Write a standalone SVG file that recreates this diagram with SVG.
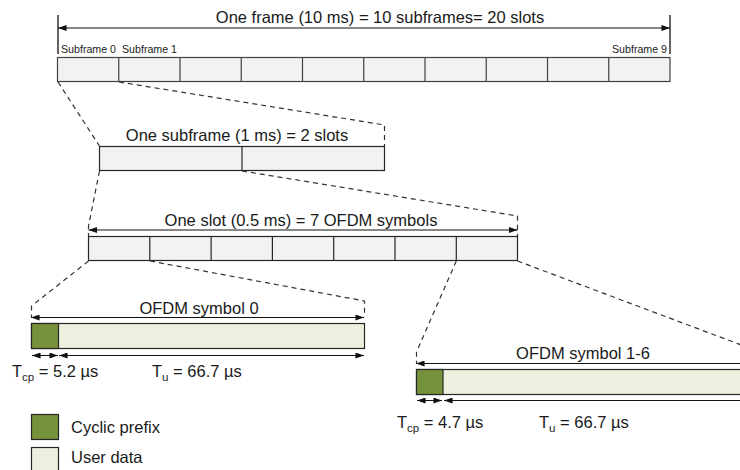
<svg xmlns="http://www.w3.org/2000/svg" width="740" height="470" viewBox="0 0 740 470">
  <style>
    text { font-family: "Liberation Sans", Arial, sans-serif; fill: #1a1a1a; }
    .t { font-size: 16.5px; }
    .small { font-size: 11px; }
    .cell { fill: #f2f2f2; stroke: #404040; stroke-width: 1.2; }
    .div { stroke: #404040; stroke-width: 1.2; }
    .cp { fill: #76923c; stroke: #262626; stroke-width: 1.2; }
    .ud { fill: #ebf1de; stroke: #262626; stroke-width: 1.2; }
    .dim { stroke: #111; stroke-width: 1; fill: none; }
    .both { marker-start: url(#ah); marker-end: url(#ah); }
    .tick { stroke: #111; stroke-width: 1.3; }
    .dash { stroke: #333; stroke-width: 1.2; fill: none; stroke-dasharray: 5 4; }
  </style>
  <defs>
    <marker id="ah" viewBox="0 0 10 7" refX="10" refY="3.5" markerWidth="9" markerHeight="6" markerUnits="userSpaceOnUse" orient="auto-start-reverse">
      <path d="M0,0 L10,3.5 L0,7 z" fill="#111"/>
    </marker>
  </defs>

  <!-- radio frame: 10 subframes -->
  <g id="frame">
    <line class="tick" x1="58" y1="15" x2="58" y2="54"/>
    <line class="tick" x1="670" y1="15" x2="670" y2="54"/>
    <line class="dim both" x1="58" y1="28" x2="670" y2="28"/>
    <text class="t" x="380" y="23" text-anchor="middle">One frame (10 ms) = 10 subframes= 20 slots</text>
    <text class="small" x="61" y="53" textLength="55" lengthAdjust="spacingAndGlyphs">Subframe 0</text>
    <text class="small" x="122" y="53" textLength="55" lengthAdjust="spacingAndGlyphs">Subframe 1</text>
    <text class="small" x="612" y="53" textLength="55" lengthAdjust="spacingAndGlyphs">Subframe 9</text>
    <rect class="cell" x="57.5" y="57.5" width="612.5" height="24"/>
    <path class="div" d="M118.75,57.5V81.5 M180,57.5V81.5 M241.25,57.5V81.5 M302.5,57.5V81.5 M363.75,57.5V81.5 M425,57.5V81.5 M486.25,57.5V81.5 M547.5,57.5V81.5 M608.75,57.5V81.5"/>
  </g>

  <!-- one subframe: 2 slots -->
  <g id="subframe">
    <text class="t" x="237" y="141" text-anchor="middle">One subframe (1 ms) = 2 slots</text>
    <rect class="cell" x="99.5" y="146.5" width="285" height="24" style="stroke:#262626"/>
    <line class="div" x1="242" y1="146.5" x2="242" y2="170.5" style="stroke:#262626"/>
  </g>

  <!-- one slot: 7 OFDM symbols -->
  <g id="slot">
    <line class="dim both" x1="88.5" y1="230" x2="517.5" y2="230"/>
    <text class="t" x="301" y="226" text-anchor="middle">One slot (0.5 ms) = 7 OFDM symbols</text>
    <rect class="cell" x="88.5" y="236.5" width="429" height="24" style="stroke:#262626"/>
    <path class="div" style="stroke:#262626" d="M149.8,236.5V260.5 M211.1,236.5V260.5 M272.4,236.5V260.5 M333.7,236.5V260.5 M395,236.5V260.5 M456.3,236.5V260.5"/>
  </g>

  <!-- OFDM symbol 0 -->
  <g id="symbol0">
    <text class="t" x="199" y="314" text-anchor="middle">OFDM symbol 0</text>
    <line class="dim both" x1="31" y1="317.5" x2="364" y2="317.5"/>
    <rect class="ud" x="31.5" y="323.5" width="333" height="25"/>
    <rect class="cp" x="31.5" y="323.5" width="27" height="25"/>
    <line class="dim both" x1="32" y1="355.5" x2="58" y2="355.5"/>
    <line class="dim both" x1="59" y1="355.5" x2="364" y2="355.5"/>
    <text class="t" x="12" y="377">T<tspan font-size="11.5" dy="4">cp</tspan><tspan dy="-4"> = 5.2 µs</tspan></text>
    <text class="t" x="152" y="377">T<tspan font-size="11.5" dy="4">u</tspan><tspan dy="-4"> = 66.7 µs</tspan></text>
  </g>

  <!-- OFDM symbols 1-6 -->
  <g id="symbol1-6">
    <text class="t" x="583" y="359" text-anchor="middle">OFDM symbol 1-6</text>
    <line class="dim" x1="416" y1="363.5" x2="760" y2="363.5" marker-start="url(#ah)"/>
    <rect class="ud" x="416.5" y="369.5" width="340" height="25"/>
    <rect class="cp" x="416.5" y="369.5" width="26.5" height="25"/>
    <line class="dim both" x1="417" y1="400.5" x2="442" y2="400.5"/>
    <line class="dim" x1="444" y1="400.5" x2="760" y2="400.5" marker-start="url(#ah)"/>
    <text class="t" x="397" y="428">T<tspan font-size="11.5" dy="4">cp</tspan><tspan dy="-4"> = 4.7 µs</tspan></text>
    <text class="t" x="539" y="428">T<tspan font-size="11.5" dy="4">u</tspan><tspan dy="-4"> = 66.7 µs</tspan></text>
  </g>

  <!-- legend -->
  <g id="legend">
    <rect class="cp" x="31.5" y="414.5" width="27" height="25"/>
    <text class="t" x="71" y="433">Cyclic prefix</text>
    <rect class="ud" x="31.5" y="447.5" width="27" height="25"/>
    <text class="t" x="71" y="463">User data</text>
  </g>

  <!-- zoom-in guide lines -->
  <g id="connectors">
    <polyline class="dash" points="58,82 99.5,146"/>
    <polyline class="dash" points="119,82 384.5,125 384.5,146"/>
    <polyline class="dash" points="99.5,171 88.5,226 88.5,236"/>
    <polyline class="dash" points="242,171 517.5,216 517.5,236"/>
    <polyline class="dash" points="88.5,261 31.5,306 31.5,317"/>
    <polyline class="dash" points="150,261 364.5,301 364.5,317"/>
    <polyline class="dash" points="456.3,261 416.5,352 416.5,363"/>
    <polyline class="dash" points="517.5,261 760,352"/>
  </g>
</svg>
